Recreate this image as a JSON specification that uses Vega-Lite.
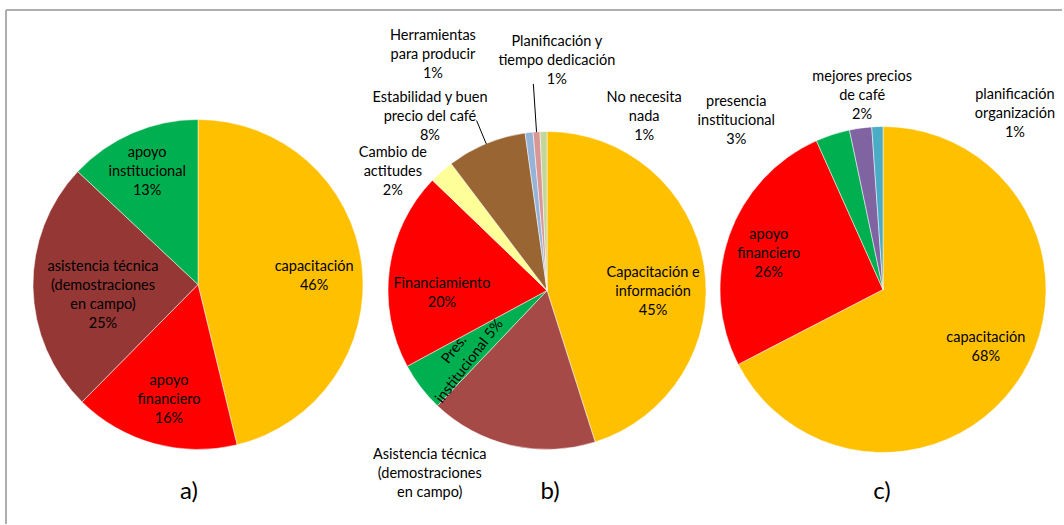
{
  "$schema": "https://vega.github.io/schema/vega-lite/v6.json",
  "background": "white",
  "padding": {"left": 5, "top": 9, "right": 0, "bottom": 0},
  "config": {"font": "Lato", "concat": {"spacing": 0}},
  "data": {"values": [
    {"panel": "a", "ord": 1, "cat": "capacitación", "value": 46.2, "label": "capacitación\n46%"},
    {"panel": "a", "ord": 2, "cat": "apoyo financiero", "value": 16.2, "label": "apoyo\nfinanciero\n16%"},
    {"panel": "a", "ord": 3, "cat": "asistencia técnica (demostraciones en campo)", "value": 24.6, "label": "asistencia técnica\n(demostraciones\nen campo)\n25%"},
    {"panel": "a", "ord": 4, "cat": "apoyo institucional", "value": 13.0, "label": "apoyo\ninstitucional\n13%"},
    {"panel": "b", "ord": 1, "cat": "Capacitación e información", "value": 45.1, "label": "Capacitación e\ninformación\n45%"},
    {"panel": "b", "ord": 2, "cat": "Asistencia técnica (demostraciones en campo)", "value": 17.0, "label": "Asistencia técnica\n(demostraciones\nen campo)"},
    {"panel": "b", "ord": 3, "cat": "Pres. institucional", "value": 5.0, "label": "Pres.\ninstitucional 5%"},
    {"panel": "b", "ord": 4, "cat": "Financiamiento", "value": 20.1, "label": "Financiamiento\n20%"},
    {"panel": "b", "ord": 5, "cat": "Cambio de actitudes", "value": 2.5, "label": "Cambio de\nactitudes\n2%"},
    {"panel": "b", "ord": 6, "cat": "Estabilidad y buen precio del café", "value": 8.1, "label": "Estabilidad  y buen\nprecio del café\n8%"},
    {"panel": "b", "ord": 7, "cat": "Herramientas para producir", "value": 0.8, "label": "Herramientas\npara producir\n1%"},
    {"panel": "b", "ord": 8, "cat": "Planificación y tiempo dedicación", "value": 0.7, "label": "Planificación y\ntiempo dedicación\n1%"},
    {"panel": "b", "ord": 9, "cat": "No necesita nada", "value": 0.7, "label": "No necesita\nnada\n1%"},
    {"panel": "c", "ord": 1, "cat": "capacitación", "value": 67.4, "label": "capacitación\n68%"},
    {"panel": "c", "ord": 2, "cat": "apoyo financiero", "value": 25.9, "label": "apoyo\nfinanciero\n26%"},
    {"panel": "c", "ord": 3, "cat": "presencia institucional", "value": 3.4, "label": "presencia\ninstitucional\n3%"},
    {"panel": "c", "ord": 4, "cat": "mejores precios de café", "value": 2.2, "label": "mejores precios\nde café\n2%"},
    {"panel": "c", "ord": 5, "cat": "planificación organización", "value": 1.1, "label": "planificación\norganización\n1%"}
  ]},
  "resolve": {"scale": {"color": "independent", "theta": "independent"}},
  "hconcat": [
    {
      "width": 384, "height": 514,
      "view": {"stroke": "#AEAEAE", "strokeWidth": 2, "strokeDash": [384, 898, 514, 0]},
      "title": {"text": "a)", "orient": "bottom", "frame": "group", "anchor": "middle", "baseline": "alphabetic", "offset": -25, "dx": -9, "fontSize": 24, "font": "Lato", "fontWeight": "normal", "color": "#000000"},
      "transform": [{"filter": "datum.panel === 'a'"}],
      "encoding": {
        "theta": {"field": "value", "type": "quantitative", "stack": true},
        "order": {"field": "ord", "type": "quantitative"}
      },
      "layer": [
        {"mark": {"type": "arc", "outerRadius": 165, "yOffset": 17.5, "stroke": "#FFFFFF", "strokeWidth": 0.5},
         "encoding": {"color": {"field": "cat", "type": "nominal", "legend": null,
           "scale": {"domain": ["capacitación", "apoyo financiero", "asistencia técnica (demostraciones en campo)", "apoyo institucional"],
                     "range": ["#FFC000", "#FF0000", "#953735", "#00B050"]}}}},
        {"mark": {"type": "text", "radius": 118, "dx": -1, "dy": -3, "yOffset": 17.5, "font": "Lato", "fontSize": 14.5, "lineHeight": 19, "lineBreak": "\n", "align": "center", "baseline": "middle", "color": "#000000"},
         "encoding": {"detail": {"field": "cat"}, "text": {"condition": {"test": "datum.cat === 'capacitación'", "field": "label"}, "value": ""}}},
        {"mark": {"type": "text", "radius": 118, "dx": 2.5, "dy": -17.7, "yOffset": 17.5, "font": "Lato", "fontSize": 14.5, "lineHeight": 19, "lineBreak": "\n", "align": "center", "baseline": "middle", "color": "#000000"},
         "encoding": {"detail": {"field": "cat"}, "text": {"condition": {"test": "datum.cat === 'apoyo financiero'", "field": "label"}, "value": ""}}},
        {"mark": {"type": "text", "radius": 118, "dx": 23, "dy": -19.5, "yOffset": 17.5, "font": "Lato", "fontSize": 14.5, "lineHeight": 19, "lineBreak": "\n", "align": "center", "baseline": "middle", "color": "#000000"},
         "encoding": {"detail": {"field": "cat"}, "text": {"condition": {"test": "datum.cat === 'asistencia técnica (demostraciones en campo)'", "field": "label"}, "value": ""}}},
        {"mark": {"type": "text", "radius": 118, "dx": -4, "dy": -23, "yOffset": 17.5, "font": "Lato", "fontSize": 14.5, "lineHeight": 19, "lineBreak": "\n", "align": "center", "baseline": "middle", "color": "#000000"},
         "encoding": {"detail": {"field": "cat"}, "text": {"condition": {"test": "datum.cat === 'apoyo institucional'", "field": "label"}, "value": ""}}}
      ]
    },
    {
      "width": 314, "height": 514,
      "view": {"stroke": "#AEAEAE", "strokeWidth": 2, "strokeDash": [314, 5000]},
      "title": {"text": "b)", "orient": "bottom", "frame": "group", "anchor": "middle", "baseline": "alphabetic", "offset": -25, "dx": 3, "fontSize": 24, "font": "Lato", "fontWeight": "normal", "color": "#000000"},
      "transform": [{"filter": "datum.panel === 'b'"}],
      "encoding": {
        "theta": {"field": "value", "type": "quantitative", "stack": true},
        "order": {"field": "ord", "type": "quantitative"}
      },
      "layer": [
        {"mark": {"type": "arc", "outerRadius": 159, "yOffset": 23.5, "stroke": "#FFFFFF", "strokeWidth": 0.5},
         "encoding": {"color": {"field": "cat", "type": "nominal", "legend": null,
           "scale": {"domain": ["Capacitación e información", "Asistencia técnica (demostraciones en campo)", "Pres. institucional", "Financiamiento", "Cambio de actitudes", "Estabilidad y buen precio del café", "Herramientas para producir", "Planificación y tiempo dedicación", "No necesita nada"],
                     "range": ["#FFC000", "#A64A48", "#00B050", "#FF0000", "#FFFF99", "#996633", "#95B3D7", "#D99694", "#C3D69B"]}}}},
        {"mark": {"type": "arc", "innerRadius": 159, "outerRadius": 184, "thetaOffset": 0.25447, "filled": false, "stroke": "#000000", "strokeWidth": 1, "strokeDash": [0, 93.6, 25.5, 1000], "yOffset": 23.5},
         "encoding": {"detail": {"field": "cat"}, "strokeOpacity": {"condition": {"test": "datum.cat === 'Estabilidad y buen precio del café'", "value": 1}, "value": 0}}},
        {"mark": {"type": "arc", "innerRadius": 159, "outerRadius": 207, "thetaOffset": 0.02199, "filled": false, "stroke": "#000000", "strokeWidth": 1, "strokeDash": [0, 9.1, 48.5, 1000], "yOffset": 23.5},
         "encoding": {"detail": {"field": "cat"}, "strokeOpacity": {"condition": {"test": "datum.cat === 'Planificación y tiempo dedicación'", "value": 1}, "value": 0}}},
        {"mark": {"type": "text", "radius": 106, "dx": 1.3, "dy": -0.8, "yOffset": 23.5, "font": "Lato", "fontSize": 14.5, "lineHeight": 19, "lineBreak": "\n", "align": "center", "baseline": "middle", "color": "#000000"},
         "encoding": {"detail": {"field": "cat"}, "text": {"condition": {"test": "datum.cat === 'Capacitación e información'", "field": "label"}, "value": ""}}},
        {"mark": {"type": "text", "radius": 175, "dx": -78, "dy": -6.5, "yOffset": 23.5, "font": "Lato", "fontSize": 14.5, "lineHeight": 19, "lineBreak": "\n", "align": "center", "baseline": "middle", "color": "#000000"},
         "encoding": {"detail": {"field": "cat"}, "text": {"condition": {"test": "datum.cat === 'Asistencia técnica (demostraciones en campo)'", "field": "label"}, "value": ""}}},
        {"mark": {"type": "text", "radius": 107, "angle": 307.6, "dy": -9.5, "yOffset": 23.5, "font": "Lato", "fontSize": 14.5, "lineHeight": 19, "lineBreak": "\n", "align": "center", "baseline": "middle", "color": "#000000"},
         "encoding": {"detail": {"field": "cat"}, "text": {"condition": {"test": "datum.cat === 'Pres. institucional'", "field": "label"}, "value": ""}}},
        {"mark": {"type": "text", "radius": 105, "dx": -1, "dy": 7.5, "yOffset": 23.5, "font": "Lato", "fontSize": 14.5, "lineHeight": 19, "lineBreak": "\n", "align": "center", "baseline": "middle", "color": "#000000"},
         "encoding": {"detail": {"field": "cat"}, "text": {"condition": {"test": "datum.cat === 'Financiamiento'", "field": "label"}, "value": ""}}},
        {"mark": {"type": "text", "radius": 175, "dx": -38, "dy": -7, "yOffset": 23.5, "font": "Lato", "fontSize": 14.5, "lineHeight": 19, "lineBreak": "\n", "align": "center", "baseline": "middle", "color": "#000000"},
         "encoding": {"detail": {"field": "cat"}, "text": {"condition": {"test": "datum.cat === 'Cambio de actitudes'", "field": "label"}, "value": ""}}},
        {"mark": {"type": "text", "radius": 200, "dx": -40.5, "dy": -8.2, "yOffset": 23.5, "font": "Lato", "fontSize": 14.5, "lineHeight": 19, "lineBreak": "\n", "align": "center", "baseline": "middle", "color": "#000000"},
         "encoding": {"detail": {"field": "cat"}, "text": {"condition": {"test": "datum.cat === 'Estabilidad y buen precio del café'", "field": "label"}, "value": ""}}},
        {"mark": {"type": "text", "radius": 240, "dx": -87, "dy": -16, "yOffset": 23.5, "font": "Lato", "fontSize": 14.5, "lineHeight": 19, "lineBreak": "\n", "align": "center", "baseline": "middle", "color": "#000000"},
         "encoding": {"detail": {"field": "cat"}, "text": {"condition": {"test": "datum.cat === 'Herramientas para producir'", "field": "label"}, "value": ""}}},
        {"mark": {"type": "text", "radius": 230, "dx": 25, "dy": -19.5, "yOffset": 23.5, "font": "Lato", "fontSize": 14.5, "lineHeight": 19, "lineBreak": "\n", "align": "center", "baseline": "middle", "color": "#000000"},
         "encoding": {"detail": {"field": "cat"}, "text": {"condition": {"test": "datum.cat === 'Planificación y tiempo dedicación'", "field": "label"}, "value": ""}}},
        {"mark": {"type": "text", "radius": 174, "dx": 101, "dy": -19, "yOffset": 23.5, "font": "Lato", "fontSize": 14.5, "lineHeight": 19, "lineBreak": "\n", "align": "center", "baseline": "middle", "color": "#000000"},
         "encoding": {"detail": {"field": "cat"}, "text": {"condition": {"test": "datum.cat === 'No necesita nada'", "field": "label"}, "value": ""}}}
      ]
    },
    {
      "width": 358, "height": 514,
      "view": {"stroke": "#AEAEAE", "strokeWidth": 2, "strokeDash": [358, 5000]},
      "title": {"text": "c)", "orient": "bottom", "frame": "group", "anchor": "middle", "baseline": "alphabetic", "offset": -25, "dx": -1, "fontSize": 24, "font": "Lato", "fontWeight": "normal", "color": "#000000"},
      "transform": [{"filter": "datum.panel === 'c'"}],
      "encoding": {
        "theta": {"field": "value", "type": "quantitative", "stack": true},
        "order": {"field": "ord", "type": "quantitative"}
      },
      "layer": [
        {"mark": {"type": "arc", "outerRadius": 163, "yOffset": 22.5, "stroke": "#FFFFFF", "strokeWidth": 0.5},
         "encoding": {"color": {"field": "cat", "type": "nominal", "legend": null,
           "scale": {"domain": ["capacitación", "apoyo financiero", "presencia institucional", "mejores precios de café", "planificación organización"],
                     "range": ["#FFC000", "#FF0000", "#00B050", "#8064A2", "#4BACC6"]}}}},
        {"mark": {"type": "text", "radius": 118, "dx": 2, "dy": -12.5, "yOffset": 22.5, "font": "Lato", "fontSize": 14.5, "lineHeight": 19, "lineBreak": "\n", "align": "center", "baseline": "middle", "color": "#000000"},
         "encoding": {"detail": {"field": "cat"}, "text": {"condition": {"test": "datum.cat === 'capacitación'", "field": "label"}, "value": ""}}},
        {"mark": {"type": "text", "radius": 120, "dx": -1, "dy": -15.3, "yOffset": 22.5, "font": "Lato", "fontSize": 14.5, "lineHeight": 19, "lineBreak": "\n", "align": "center", "baseline": "middle", "color": "#000000"},
         "encoding": {"detail": {"field": "cat"}, "text": {"condition": {"test": "datum.cat === 'apoyo financiero'", "field": "label"}, "value": ""}}},
        {"mark": {"type": "text", "radius": 190, "dx": -88, "dy": -6.3, "yOffset": 22.5, "font": "Lato", "fontSize": 14.5, "lineHeight": 19, "lineBreak": "\n", "align": "center", "baseline": "middle", "color": "#000000"},
         "encoding": {"detail": {"field": "cat"}, "text": {"condition": {"test": "datum.cat === 'presencia institucional'", "field": "label"}, "value": ""}}},
        {"mark": {"type": "text", "radius": 195, "dx": 6, "dy": -19, "yOffset": 22.5, "font": "Lato", "fontSize": 14.5, "lineHeight": 19, "lineBreak": "\n", "align": "center", "baseline": "middle", "color": "#000000"},
         "encoding": {"detail": {"field": "cat"}, "text": {"condition": {"test": "datum.cat === 'mejores precios de café'", "field": "label"}, "value": ""}}},
        {"mark": {"type": "text", "radius": 176, "dx": 138, "dy": -19, "yOffset": 22.5, "font": "Lato", "fontSize": 14.5, "lineHeight": 19, "lineBreak": "\n", "align": "center", "baseline": "middle", "color": "#000000"},
         "encoding": {"detail": {"field": "cat"}, "text": {"condition": {"test": "datum.cat === 'planificación organización'", "field": "label"}, "value": ""}}}
      ]
    }
  ],
  "bounds": "flush"
}
